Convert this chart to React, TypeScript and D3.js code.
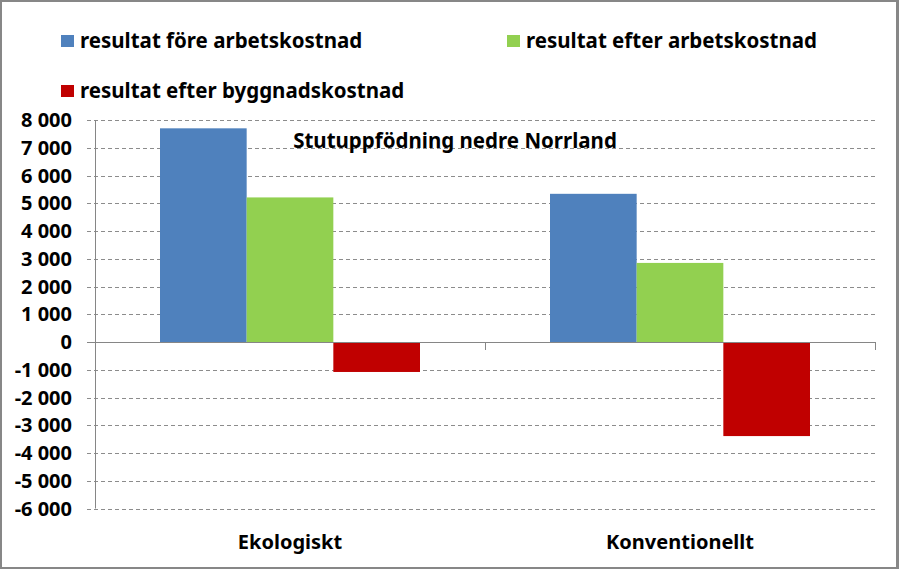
import React from "react";
import * as d3 from "d3";

const categories = ["Ekologiskt", "Konventionellt"];
const seriesNames = [
  "resultat före arbetskostnad",
  "resultat efter arbetskostnad",
  "resultat efter byggnadskostnad",
];
const seriesColors = ["#4F81BD", "#92D050", "#C00000"];
const foreValues = [7700, 5340];
const efterArbetValues = [5210, 2850];
const efterByggValues = [-1080, -3390];
const yTicks = [8000, 7000, 6000, 5000, 4000, 3000, 2000, 1000, 0, -1000, -2000, -3000, -4000, -5000, -6000];
const chartTitle = "Stutuppfödning nedre Norrland";

const W = 899;
const H = 569;
const font = "'Noto Sans', 'DejaVu Sans', sans-serif";

export default function App() {
  const series = [foreValues, efterArbetValues, efterByggValues];
  const plotL = 95, plotR = 875, plotT = 120, plotB = 508.5;
  const y = d3.scaleLinear().domain([-6000, 8000]).range([plotB, plotT]);
  const x0 = d3.scaleBand<string>().domain(categories).range([plotL, plotR]).paddingInner(0).paddingOuter(0);
  const bw = x0.bandwidth();
  const barW = bw / 4.5;
  const x1 = d3.scaleBand<number>().domain([0, 1, 2]).range([0, barW * 3]);
  const fmt = (v: number) => {
    const s = d3.format(",")(Math.abs(v)).replace(/,/g, " ");
    return (v < 0 ? "-" : "") + s;
  };
  const legendPos = [
    { x: 61, y: 35 },
    { x: 507, y: 35 },
    { x: 61, y: 85 },
  ];
  return (
    <svg width={W} height={H} style={{ display: "block", position: "absolute", left: 0, top: 0 }}>
      <rect x={0} y={0} width={W} height={H} fill="#878787" />
      <rect x={2} y={2} width={W - 5} height={H - 4} fill="#fff" />
      {/* legend */}
      {seriesNames.map((n, i) => (
        <g key={n}>
          <rect x={legendPos[i].x} y={legendPos[i].y} width={13} height={12} fill={seriesColors[i]} />
          <text x={legendPos[i].x + 19} y={legendPos[i].y + 13} fontFamily={font} fontWeight="bold" fontSize={20.5} fill="#000">
            {n}
          </text>
        </g>
      ))}
      {/* gridlines */}
      {yTicks.filter((t) => t !== 0).map((t) => (
        <line key={t} x1={87} x2={plotR} y1={Math.round(y(t)) + 0.5} y2={Math.round(y(t)) + 0.5} stroke="#8c8c8c" strokeDasharray="4,3" strokeWidth={1} />
      ))}
      {/* y axis */}
      <line x1={plotL + 0.5} x2={plotL + 0.5} y1={plotT} y2={plotB} stroke="#868686" />
      <line x1={87} x2={plotL} y1={Math.round(y(0)) + 0.5} y2={Math.round(y(0)) + 0.5} stroke="#868686" />
      {yTicks.map((t) => (
        <text key={t} x={72} y={y(t) + 7} textAnchor="end" fontFamily={font} fontWeight="bold" fontSize={20} fill="#000">
          {fmt(t)}
        </text>
      ))}
      {/* bars */}
      {categories.map((c, ci) => (
        <g key={c} transform={`translate(${(x0(c) as number) + (bw - barW * 3) / 2},0)`}>
          {series.map((s, si) => (
            <rect
              key={si}
              x={x1(si)}
              width={x1.bandwidth()}
              y={y(Math.max(0, s[ci]))}
              height={Math.abs(y(s[ci]) - y(0))}
              fill={seriesColors[si]}
            />
          ))}
        </g>
      ))}
      {/* x axis */}
      <line x1={plotL} x2={plotR} y1={Math.round(y(0)) + 0.5} y2={Math.round(y(0)) + 0.5} stroke="#868686" />
      {[plotL, ...categories.map((c) => (x0(c) as number) + bw)].map((xx, i) => (
        <line key={i} x1={xx + 0.5} x2={xx + 0.5} y1={y(0)} y2={y(0) + 8} stroke="#868686" />
      ))}
      {categories.map((c) => (
        <text key={c} x={(x0(c) as number) + bw / 2} y={549} textAnchor="middle" fontFamily={font} fontWeight="bold" fontSize={20} fill="#000">
          {c}
        </text>
      ))}
      <text x={455} y={148} textAnchor="middle" fontFamily={font} fontWeight="bold" fontSize={20.5} fill="#000">
        {chartTitle}
      </text>
    </svg>
  );
}
